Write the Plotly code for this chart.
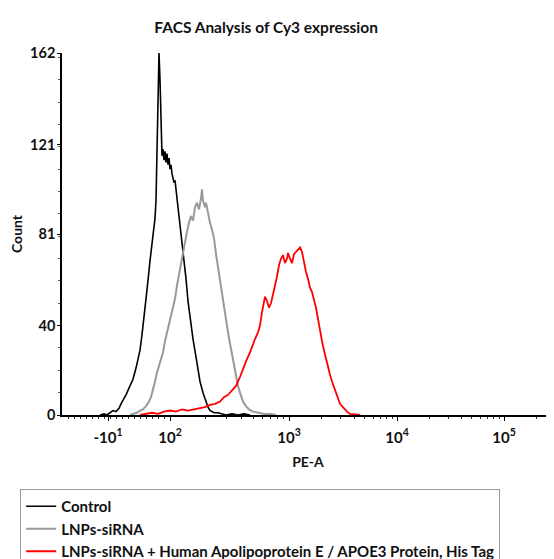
import numpy as np
import plotly.graph_objects as go

# x values are display channels of the PE-A axis (biexponential display scale)
control_x = [76, 84, 90, 96, 102, 108, 114, 118, 122, 128,
             134, 142, 148, 156, 160, 166, 170, 176, 180, 182,
             186, 188, 190, 192, 194, 196, 198, 200, 202, 204,
             206, 208, 210, 212, 214, 216, 218, 220, 224, 226,
             228, 230, 232, 236, 240, 244, 248, 252, 256, 262,
             268, 272, 276, 282, 288, 292, 296, 304, 312, 320,
             328, 340, 352, 364, 376]
control_y = [0, 0.5, 0, 1, 2, 1.5, 3, 5, 6.5, 9,
             12, 16, 21, 29, 36, 47, 56, 69, 77, 82,
             88, 96, 120, 140, 162, 150, 128, 116, 119, 114,
             118, 113, 117, 112, 115, 110, 112, 108, 104, 105,
             101, 97, 95, 88, 80, 71, 61, 51, 44, 34,
             26, 21, 15, 10, 6, 3.5, 2, 1, 1, 0.5,
             0, 0.5, 0, 0.5, 0]

lnp_x = [136, 144, 150, 156, 162, 168, 174, 178, 182, 186,
         190, 194, 198, 202, 206, 210, 214, 218, 222, 226,
         230, 234, 238, 242, 246, 250, 254, 258, 262, 266,
         270, 274, 278, 280, 282, 286, 288, 292, 296, 300,
         304, 308, 312, 316, 320, 324, 328, 332, 336, 340,
         344, 348, 352, 356, 362, 368, 374, 382, 392, 404,
         416, 428]
lnp_y = [0, 0.5, 1, 2, 2.5, 4, 6, 8, 11, 15,
         19, 22, 24, 28, 33, 37, 40, 44, 48, 52,
         58, 63, 68, 73, 77, 82, 86, 89, 87, 93,
         95, 92, 97, 101, 96, 93, 95, 90, 86, 83,
         79, 72, 66, 59, 54, 48, 43, 37, 32, 27,
         22, 17, 13, 10, 6, 4, 2.5, 1.5, 1, 0.5,
         0.5, 0]

apoe_x = [156, 168, 180, 192, 204, 216, 228, 240, 252, 264,
          276, 286, 296, 306, 316, 324, 332, 340, 348, 356,
          362, 368, 376, 382, 386, 392, 396, 400, 404, 406,
          410, 414, 418, 422, 426, 430, 434, 438, 442, 446,
          450, 452, 456, 460, 464, 468, 472, 476, 480, 484,
          488, 492, 496, 500, 504, 508, 512, 516, 520, 524,
          528, 532, 536, 540, 544, 548, 552, 556, 560, 564,
          570, 576, 584, 596]
apoe_y = [0, 0.5, 1, 0.5, 1.5, 2, 1.5, 2.5, 2, 2.5,
          3, 3.5, 4.5, 5, 6, 8, 9, 11, 13, 17,
          21, 24, 28, 32, 34, 37, 40, 46, 51, 53,
          51, 48, 50, 54, 57, 62, 67, 70, 71.5, 68,
          70, 72.5, 70, 68, 72, 73, 74, 75, 73, 68,
          64, 61, 57, 55, 52, 48, 43, 37, 33, 29,
          25, 21, 18, 15, 12, 10, 7.5, 5, 4, 3,
          1.5, 0.5, 0.3, 0]

x_tickvals = [92, 216, 454, 670, 884]
x_ticktext = ["-10<sup>1</sup>", "10<sup>2</sup>", "10<sup>3</sup>",
              "10<sup>4</sup>", "10<sup>5</sup>"]
y_tickvals = [0, 40, 81, 121, 162]

series_names = ["Control", "LNPs-siRNA",
                "LNPs-siRNA + Human Apolipoprotein E / APOE3 Protein, His Tag"]
series_colors = ["#000000", "#999999", "#ff0000"]

# minor ticks: linear region near zero, then log decades
minor_x = list(np.arange(12, 216, 12))
decades = x_tickvals[1:] + [x_tickvals[-1] + 214]
for a, b in zip(decades[:-1], decades[1:]):
    for k in range(2, 10):
        minor_x.append(a + np.log10(k) * (b - a))
minor_x = [float(v) for v in minor_x if v < 984]

fig = go.Figure()
for xs, ys, name, col, w in [(control_x, control_y, series_names[0], series_colors[0], 1.6),
                              (lnp_x, lnp_y, series_names[1], series_colors[1], 2.0),
                              (apoe_x, apoe_y, series_names[2], series_colors[2], 1.8)]:
    fig.add_trace(go.Scatter(x=xs, y=ys, mode="lines", name=name,
                             line=dict(color=col, width=w, shape="linear")))

font_fam = "Lato"
fig.update_layout(
    width=554, height=559,
    paper_bgcolor="white", plot_bgcolor="white",
    margin=dict(l=54, r=8, t=45, b=152, autoexpand=False),
    title=dict(text="FACS Analysis of Cy3 expression", x=0.466, xanchor="center",
               y=1 - 20 / 559, yanchor="middle",
               font=dict(family=font_fam, size=15.5, weight="bold", color="#111")),
    showlegend=True,
    legend=dict(x=-0.085, xanchor="left", y=-0.2044, yanchor="top",
                bordercolor="#999999", borderwidth=1, bgcolor="white",
                font=dict(family=font_fam, size=15, weight="bold", color="#111"),
                itemwidth=30, tracegroupgap=0, traceorder="normal"),
    xaxis=dict(range=[0, 984], showgrid=False, zeroline=False,
               showline=True, linecolor="black", linewidth=1.5,
               tickmode="array", tickvals=x_tickvals, ticktext=x_ticktext,
               ticks="outside", ticklen=4, tickcolor="black", ticklabelstandoff=4,
               tickfont=dict(family=font_fam, size=15, weight="bold", color="#111"),
               minor=dict(tickmode="array", tickvals=minor_x, ticks="outside",
                          ticklen=2, tickcolor="#333"),
               title=dict(text="PE-A", standoff=12,
                          font=dict(family=font_fam, size=14, weight="bold", color="#111"))),
    yaxis=dict(range=[0, 162], showgrid=False, zeroline=False,
               showline=True, linecolor="black", linewidth=1.5,
               tickmode="array", tickvals=y_tickvals,
               ticks="outside", ticklen=3, tickcolor="black", ticklabelstandoff=-1,
               tickfont=dict(family=font_fam, size=14.5, weight="bold", color="#111"),
               minor=dict(dtick=10, tick0=0, ticks="outside", ticklen=2, tickcolor="#555"),
               title=dict(text="Count", standoff=10,
                          font=dict(family=font_fam, size=14, weight="bold", color="#111"))),
)

fig.write_html("out.html")
